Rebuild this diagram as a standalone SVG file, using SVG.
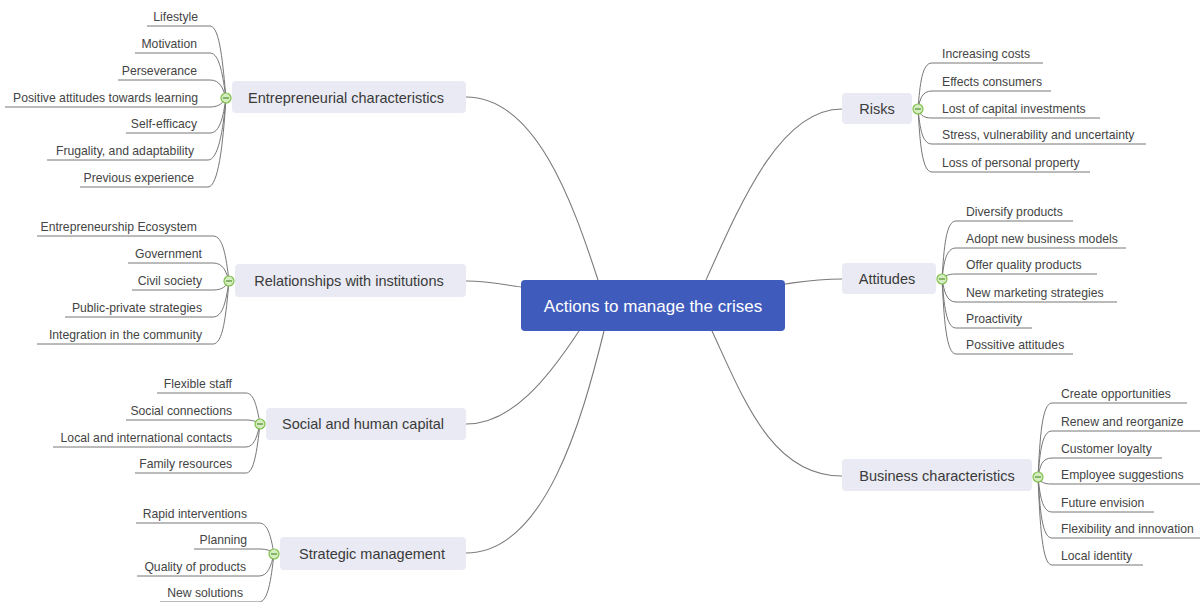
<svg xmlns="http://www.w3.org/2000/svg" width="1200" height="602" viewBox="0 0 1200 602">
<style>
.main{fill:#e9eaf3;}
.center{fill:#3f5cbd;}
.mt{font-family:"Liberation Sans",Arial,sans-serif;font-size:14.5px;fill:#3a3a3a;text-anchor:middle;}
.ct{font-family:"Liberation Sans",Arial,sans-serif;font-size:17px;fill:#ffffff;text-anchor:middle;}
.lt{font-family:"Liberation Sans",Arial,sans-serif;font-size:12.2px;fill:#444;}
.l{text-anchor:end;}
.r{text-anchor:start;}
.c{fill:none;stroke:#7a7a7a;stroke-width:1.1;}
.lc{fill:none;stroke:#777;stroke-width:1;}
.tog{fill:#d6edc2;stroke:#7fbf4a;stroke-width:1.2;}
.minus{stroke:#4f8f2a;stroke-width:1.2;}
</style>
<rect width="1200" height="602" fill="#ffffff"/>
<g id="connectors">
<path class="c" d="M466,97 C535,97 572,200 598,280"/>
<path class="c" d="M466,281 C490,281 505,285 521,287"/>
<path class="c" d="M466,424 C512,424 548,378 579,331"/>
<path class="c" d="M466,553 C545,553 582,420 604,331"/>
<path class="c" d="M842,109 C782,109 744,195 706,280"/>
<path class="c" d="M842,279 C815,279 800,282 785,284"/>
<path class="c" d="M842,476 C772,476 744,400 712,331"/>
<!-- Entrepreneurial leaves, circle 226,98 -->
<path class="lc" d="M147,26 H210 C220,26 223,66 226,98"/>
<path class="lc" d="M135,53 H210 C220,53 223,78 226,98"/>
<path class="lc" d="M118,80 H210 C220,80 223,88 226,98"/>
<path class="lc" d="M5,107 H210 C220,107 223,102 226,98"/>
<path class="lc" d="M126,133 H210 C220,133 223,117 226,98"/>
<path class="lc" d="M47,160 H208 C218,160 223,132 226,98"/>
<path class="lc" d="M80,187 H208 C218,187 223,146 226,98"/>
<!-- Relationships leaves, circle 229,281 -->
<path class="lc" d="M37,236 H213 C223,236 226,256 229,281"/>
<path class="lc" d="M128,263 H213 C223,263 226,271 229,281"/>
<path class="lc" d="M132,290 H213 C223,290 226,286 229,281"/>
<path class="lc" d="M65,317 H213 C223,317 226,301 229,281"/>
<path class="lc" d="M37,344 H213 C223,344 226,316 229,281"/>
<!-- Social leaves, circle 260,424 -->
<path class="lc" d="M157,393 H246 C254,393 257,407 260,424"/>
<path class="lc" d="M126,420 H246 C254,420 257,422 260,424"/>
<path class="lc" d="M53,447 H246 C254,447 257,437 260,424"/>
<path class="lc" d="M135,473 H246 C254,473 257,451 260,424"/>
<!-- Strategic leaves, circle 274,554 -->
<path class="lc" d="M136,523 H259 C268,523 271,537 274,554"/>
<path class="lc" d="M194,549 H259 C268,549 271,551 274,554"/>
<path class="lc" d="M137,576 H259 C268,576 271,566 274,554"/>
<path class="lc" d="M160,602 H259 C268,602 271,580 274,554"/>
<!-- Risks leaves, circle 918,109 -->
<path class="lc" d="M1043,63 H932 C922,63 920,84 918,109"/>
<path class="lc" d="M1051,91 H932 C922,91 920,99 918,109"/>
<path class="lc" d="M1100,118 H932 C922,118 920,114 918,109"/>
<path class="lc" d="M1146,144 H932 C922,144 920,128 918,109"/>
<path class="lc" d="M1090,172 H932 C922,172 920,143 918,109"/>
<!-- Attitudes leaves, circle 942,279 -->
<path class="lc" d="M1073,221 H956 C946,221 944,247 942,279"/>
<path class="lc" d="M1126,248 H956 C946,248 944,262 942,279"/>
<path class="lc" d="M1097,274 H956 C946,274 944,277 942,279"/>
<path class="lc" d="M1117,302 H956 C946,302 944,290 942,279"/>
<path class="lc" d="M1032,328 H956 C946,328 944,304 942,279"/>
<path class="lc" d="M1073,354 H956 C946,354 944,318 942,279"/>
<!-- Business leaves, circle 1038,477 -->
<path class="lc" d="M1187,403 H1052 C1042,403 1040,437 1038,477"/>
<path class="lc" d="M1200,431 H1052 C1042,431 1040,452 1038,477"/>
<path class="lc" d="M1162,458 H1052 C1042,458 1040,466 1038,477"/>
<path class="lc" d="M1200,484 H1052 C1042,484 1040,481 1038,477"/>
<path class="lc" d="M1154,512 H1052 C1042,512 1040,495 1038,477"/>
<path class="lc" d="M1200,538 H1052 C1042,538 1040,510 1038,477"/>
<path class="lc" d="M1143,565 H1052 C1042,565 1040,524 1038,477"/>
</g>
<g id="center">
<rect class="center" x="521" y="280" width="264" height="51" rx="4"/>
<text class="ct" x="653" y="312">Actions to manage the crises</text>
</g>
<g id="entrepreneurial">
<rect class="main" x="232" y="81" width="234" height="32" rx="4"/>
<text class="mt" x="346" y="103">Entrepreneurial characteristics</text>
<circle class="tog" cx="226" cy="98" r="5"/><line class="minus" x1="223" y1="98" x2="229" y2="98"/>
<text class="lt l" x="198" y="21">Lifestyle</text>
<text class="lt l" x="197" y="48">Motivation</text>
<text class="lt l" x="197" y="75">Perseverance</text>
<text class="lt l" x="198" y="102">Positive attitudes towards learning</text>
<text class="lt l" x="197" y="128">Self-efficacy</text>
<text class="lt l" x="194" y="155">Frugality, and adaptability</text>
<text class="lt l" x="194" y="182">Previous experience</text>
</g>
<g id="relationships">
<rect class="main" x="235" y="264" width="231" height="33" rx="4"/>
<text class="mt" x="349" y="286">Relationships with institutions</text>
<circle class="tog" cx="229" cy="281" r="5"/><line class="minus" x1="226" y1="281" x2="232" y2="281"/>
<text class="lt l" x="197" y="231">Entrepreneurship Ecosystem</text>
<text class="lt l" x="202" y="258">Government</text>
<text class="lt l" x="202" y="285">Civil society</text>
<text class="lt l" x="202" y="312">Public-private strategies</text>
<text class="lt l" x="202" y="339">Integration in the community</text>
</g>
<g id="social">
<rect class="main" x="266" y="408" width="200" height="32" rx="4"/>
<text class="mt" x="363" y="429">Social and human capital</text>
<circle class="tog" cx="260" cy="424" r="5"/><line class="minus" x1="257" y1="424" x2="263" y2="424"/>
<text class="lt l" x="232" y="388">Flexible staff</text>
<text class="lt l" x="232" y="415">Social connections</text>
<text class="lt l" x="232" y="442">Local and international contacts</text>
<text class="lt l" x="232" y="468">Family resources</text>
</g>
<g id="strategic">
<rect class="main" x="280" y="537" width="186" height="33" rx="4"/>
<text class="mt" x="372" y="559">Strategic management</text>
<circle class="tog" cx="274" cy="554" r="5"/><line class="minus" x1="271" y1="554" x2="277" y2="554"/>
<text class="lt l" x="247" y="518">Rapid interventions</text>
<text class="lt l" x="247" y="544">Planning</text>
<text class="lt l" x="246" y="571">Quality of products</text>
<text class="lt l" x="243" y="597">New solutions</text>
</g>
<g id="risks">
<rect class="main" x="842" y="93" width="70" height="31" rx="4"/>
<text class="mt" x="877" y="114">Risks</text>
<circle class="tog" cx="918" cy="109" r="5"/><line class="minus" x1="915" y1="109" x2="921" y2="109"/>
<text class="lt r" x="942" y="58">Increasing costs</text>
<text class="lt r" x="942" y="86">Effects consumers</text>
<text class="lt r" x="942" y="113">Lost of capital investments</text>
<text class="lt r" x="942" y="139">Stress, vulnerability and uncertainty</text>
<text class="lt r" x="942" y="167">Loss of personal property</text>
</g>
<g id="attitudes">
<rect class="main" x="842" y="263" width="94" height="31" rx="4"/>
<text class="mt" x="887" y="284">Attitudes</text>
<circle class="tog" cx="942" cy="279" r="5"/><line class="minus" x1="939" y1="279" x2="945" y2="279"/>
<text class="lt r" x="966" y="216">Diversify products</text>
<text class="lt r" x="966" y="243">Adopt new business models</text>
<text class="lt r" x="966" y="269">Offer quality products</text>
<text class="lt r" x="966" y="297">New marketing strategies</text>
<text class="lt r" x="966" y="323">Proactivity</text>
<text class="lt r" x="966" y="349">Possitive attitudes</text>
</g>
<g id="business">
<rect class="main" x="842" y="459" width="190" height="32" rx="4"/>
<text class="mt" x="937" y="481">Business characteristics</text>
<circle class="tog" cx="1038" cy="477" r="5"/><line class="minus" x1="1035" y1="477" x2="1041" y2="477"/>
<text class="lt r" x="1061" y="398">Create opportunities</text>
<text class="lt r" x="1061" y="426">Renew and reorganize</text>
<text class="lt r" x="1061" y="453">Customer loyalty</text>
<text class="lt r" x="1061" y="479">Employee suggestions</text>
<text class="lt r" x="1061" y="507">Future envision</text>
<text class="lt r" x="1061" y="533">Flexibility and innovation</text>
<text class="lt r" x="1061" y="560">Local identity</text>
</g>
</svg>
